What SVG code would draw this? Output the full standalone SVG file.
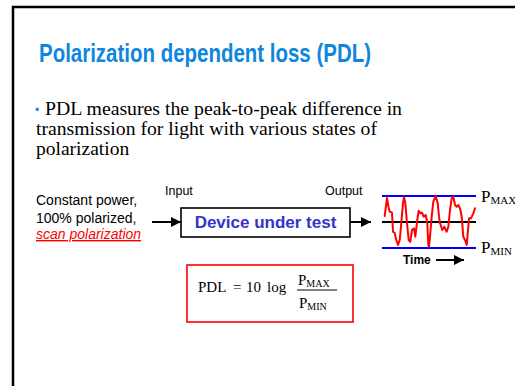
<svg xmlns="http://www.w3.org/2000/svg" width="515" height="386" viewBox="0 0 515 386">
<style>
.frame{stroke:#000;stroke-width:2.5;fill:none}
.title{font-family:"Liberation Sans",Arial,sans-serif;font-weight:bold;font-size:25px;fill:#0f86de}
.body{font-family:"Liberation Serif","Times New Roman",serif;font-size:19.5px;fill:#000}
.sans{font-family:"Liberation Sans",Arial,sans-serif;fill:#000}
.serif{font-family:"Liberation Serif","Times New Roman",serif;fill:#000}
.conn{stroke:#000;stroke-width:2;fill:none}
.blue{stroke:#0000ff;stroke-width:2;fill:none}
</style>
<defs>
<marker id="ah" viewBox="0 0 10 10" refX="10" refY="5" markerWidth="5" markerHeight="5" orient="auto" markerUnits="strokeWidth">
<path d="M0,0 L10,5 L0,10 z" fill="#000"/>
</marker>
</defs>
<rect width="515" height="386" fill="#fff"/>
<g id="frame">
<line class="frame" x1="13" y1="6" x2="13" y2="386"/>
<line class="frame" x1="12" y1="7" x2="515" y2="7"/>
</g>
<g id="title">
<text class="title" x="39" y="62" textLength="332" lengthAdjust="spacingAndGlyphs">Polarization dependent loss (PDL)</text>
</g>
<g id="body">
<text x="35" y="114" font-family="Liberation Sans,Arial,sans-serif" font-size="12" fill="#1a86de">•</text>
<text class="body" x="45" y="115" textLength="357" lengthAdjust="spacingAndGlyphs">PDL measures the peak-to-peak difference in</text>
<text class="body" x="36" y="135" textLength="341" lengthAdjust="spacingAndGlyphs">transmission for light with various states of</text>
<text class="body" x="36" y="155">polarization</text>
</g>
<g id="source">
<text class="sans" x="36" y="205" font-size="14">Constant power,</text>
<text class="sans" x="36" y="223" font-size="14">100% polarized,</text>
<text class="sans" x="36" y="239" font-size="14" font-style="italic" style="fill:#ff0000" text-decoration="underline">scan polarization</text>
</g>
<g id="dut">
<rect x="181" y="208" width="169" height="29" fill="#fff" stroke="#000" stroke-width="1.6"/>
<text class="sans" x="265.5" y="228" font-size="17" font-weight="bold" text-anchor="middle" style="fill:#3333cc">Device under test</text>
<text class="sans" x="165" y="195" font-size="12.5">Input</text>
<text class="sans" x="325" y="195" font-size="12.5">Output</text>
</g>
<g id="connectors">
<line class="conn" x1="152" y1="222" x2="181" y2="222" marker-end="url(#ah)"/>
<line class="conn" x1="350" y1="222" x2="371" y2="222" marker-end="url(#ah)"/>
<line class="conn" x1="436" y1="260" x2="464" y2="260" marker-end="url(#ah)"/>
</g>
<g id="trace">
<line class="blue" x1="382" y1="196" x2="476" y2="196"/>
<line class="blue" x1="382" y1="248" x2="476" y2="248"/>
<line class="conn" x1="382" y1="222" x2="476" y2="222"/>
<polyline fill="none" stroke="#ff0000" stroke-width="2" stroke-linejoin="round" stroke-linecap="round" points="384.7,216 387,198 388.7,208 389.7,211.7 392,212.7 393,231.7 394.7,233 396.3,240 398,245 399.7,240 401.3,223 403,203 404,197.3 405.3,203 407,223 408.7,240 410.3,241.7 412,230 414,228.3 415.3,236.7 417.3,220 418.7,210.7 420.3,213.3 422,212.7 423.7,216.7 425.7,215 427.3,223 428.3,245 429,246.7 430,236.7 431.7,216.7 433.3,201.7 435.7,196 437.7,203.3 439,216.7 440,223 442.3,230 444.3,226.7 446.7,231.7 448.3,226.7 450,210 451.7,198.3 453.3,196.7 455,205 456.7,206.7 458.3,205 460,208.3 461.7,216.7 463.3,236.7 465,240 466.7,245 467.7,233.3 469,218.3 471,218.3 473.3,213.3 475,208.3"/>
<text class="serif" x="481" y="202" font-size="17">P<tspan font-size="11" dy="2">MAX</tspan></text>
<text class="serif" x="481" y="253" font-size="17">P<tspan font-size="11" dy="2">MIN</tspan></text>
<text class="sans" x="403" y="264" font-size="12" font-weight="bold">Time</text>
</g>
<g id="formula">
<rect x="187" y="265" width="166" height="57" fill="#fff" stroke="#ff0000" stroke-width="1.6"/>
<text class="serif" x="198" y="292" font-size="15">PDL</text>
<text class="serif" x="233" y="292" font-size="15">=</text>
<text class="serif" x="246" y="292" font-size="15">10</text>
<text class="serif" x="267" y="292" font-size="15">log</text>
<text class="serif" x="298" y="284.5" font-size="15">P<tspan font-size="10" dy="2">MAX</tspan></text>
<line x1="297" y1="290" x2="337" y2="290" stroke="#000" stroke-width="1"/>
<text class="serif" x="299" y="308" font-size="15">P<tspan font-size="10" dy="2">MIN</tspan></text>
</g>
</svg>
